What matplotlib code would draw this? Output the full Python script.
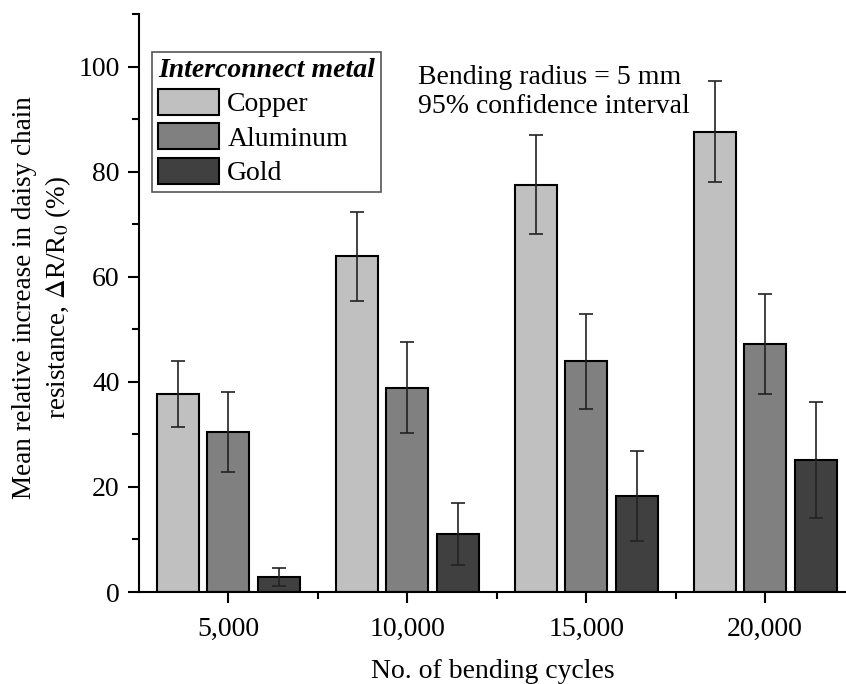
import numpy as np
import matplotlib
matplotlib.use('Agg')
import matplotlib.pyplot as plt
from matplotlib.ticker import MultipleLocator, FixedLocator

plt.rcParams['font.family'] = ['Liberation Serif', 'DejaVu Serif']
plt.rcParams['mathtext.fontset'] = 'stix'

# data
cycles = ['5,000', '10,000', '15,000', '20,000']
metals = ['Copper', 'Aluminum', 'Gold']
copper = [37.7, 63.9, 77.5, 87.6]
copper_err = [6.3, 8.5, 9.4, 9.6]
aluminum = [30.5, 38.9, 43.9, 47.2]
aluminum_err = [7.6, 8.6, 9.0, 9.5]
gold = [2.9, 11.1, 18.3, 25.1]
gold_err = [1.7, 5.9, 8.6, 11.0]

colors = ['#c0c0c0', '#808080', '#404040']
offsets = [-0.28, 0.0, 0.285]
width = 0.235
FS = 20

fig = plt.figure(figsize=(8.46, 6.84), dpi=100)
ax = fig.add_axes([0.1643, 0.1345, 0.8357, 0.845])

x = np.arange(len(cycles))
series = [(copper, copper_err), (aluminum, aluminum_err), (gold, gold_err)]
for (vals, errs), name, c, off in zip(series, metals, colors, offsets):
    ax.bar(x + off, vals, width, color=c, edgecolor='black', linewidth=1.5,
           label=name, zorder=2)
    ax.errorbar(x + off, vals, yerr=errs, fmt='none', ecolor='#222222',
                elinewidth=1.2, capsize=5, capthick=1.2, zorder=3)

ax.set_xlim(-0.5, 3.453)
ax.set_ylim(0, 110)
ax.set_xticks(x)
ax.set_xticklabels(cycles)
ax.xaxis.set_minor_locator(FixedLocator([0.5, 1.5, 2.5]))
ax.yaxis.set_major_locator(FixedLocator([0, 20, 40, 60, 80, 100]))
ax.yaxis.set_minor_locator(MultipleLocator(10))

for side in ['top', 'right']:
    ax.spines[side].set_visible(False)
for side in ['left', 'bottom']:
    ax.spines[side].set_linewidth(1.5)
ax.tick_params(which='major', direction='out', length=8, width=1.5, labelsize=FS)
ax.tick_params(axis='x', which='major', pad=10)
ax.tick_params(axis='y', which='major', pad=6)
ax.tick_params(which='minor', direction='out', length=5, width=1.5)

ax.set_xlabel('No. of bending cycles', fontsize=FS, labelpad=12)
ax.set_ylabel('Mean relative increase in daisy chain\nresistance, $\\Delta$R/R$_0$ (%)',
              fontsize=19.5, labelpad=6, linespacing=1.3)
ax.yaxis.set_label_coords(-0.093, 0.51)

leg = ax.legend(loc='upper left', bbox_to_anchor=(0.018, 0.935), fontsize=FS,
                title='Interconnect metal', alignment='left',
                handlelength=2.2, handleheight=1.05, labelspacing=0.22,
                handletextpad=0.3, borderpad=0.22, borderaxespad=0,
                fancybox=False, edgecolor='#555555', framealpha=1)
leg.get_title().set_fontweight('bold')
leg.get_title().set_fontstyle('italic')
leg.get_title().set_fontsize(FS)
leg.get_frame().set_linewidth(1.2)

ax.text(0.395, 0.912, 'Bending radius = 5 mm\n95% confidence interval',
        transform=ax.transAxes, fontsize=FS, va='top', ha='left', linespacing=1.22)

fig.savefig('out.png', dpi=100)
